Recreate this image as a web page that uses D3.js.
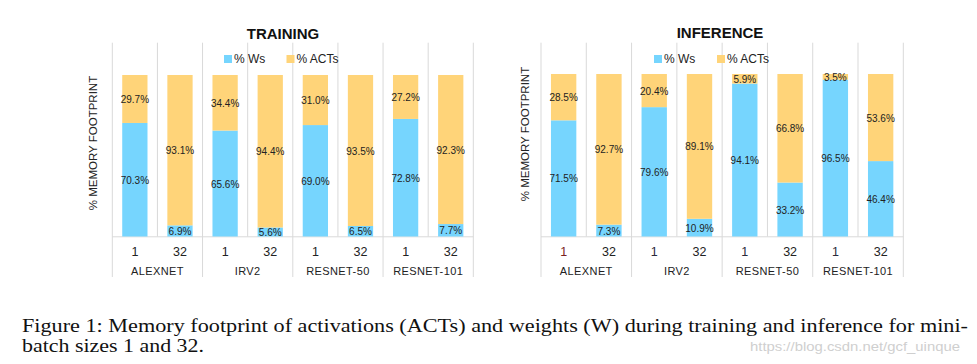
<!DOCTYPE html>
<html><head><meta charset="utf-8">
<script src="https://cdn.jsdelivr.net/npm/d3@7"></script>
<style>body{margin:0;background:#fff}svg{display:block}</style>
</head><body>
<svg id="c" width="977" height="364"></svg>
<script>
const groups = ["ALEXNET", "IRV2", "RESNET-50", "RESNET-101"];
const batches = ["1", "32"];
const trainWs = [70.3, 6.9, 65.6, 5.6, 69.0, 6.5, 72.8, 7.7];
const trainActs = [29.7, 93.1, 34.4, 94.4, 31.0, 93.5, 27.2, 92.3];
const infWs = [71.5, 7.3, 79.6, 10.9, 94.1, 33.2, 96.5, 46.4];
const infActs = [28.5, 92.7, 20.4, 89.1, 5.9, 66.8, 3.5, 53.6];
const seriesNames = ["% Ws", "% ACTs"];
const titles = ["TRAINING", "INFERENCE"];
const yLabel = "% MEMORY FOOTPRINT";
const caption1 = "Figure 1: Memory footprint of activations (ACTs) and weights (W) during training and inference for mini-";
const caption2 = "batch sizes 1 and 32.";
const watermark = "https://blog.csdn.net/gcf_uinque";

const BLUE = "#76D5FE", ORANGE = "#FFD479", GRID = "#d9d9d9";
const FONT = "'Liberation Sans', Arial, sans-serif";
const svg = d3.select("#c");

const panels = [
  {title: titles[0], ws: trainWs, acts: trainActs, x0: 112.3, x1: 473.3, top: 75, bottom: 236.5,
   titleX: 283, titleY: 38.5, ylx: 93, yly: 143, legX: [224, 286.5]},
  {title: titles[1], ws: infWs, acts: infActs, x0: 541, x1: 903.3, top: 74, bottom: 236.5,
   titleX: 720, titleY: 37.5, ylx: 525, yly: 134, legX: [654, 717]}
];

panels.forEach((p, pi) => {
  const keys = [];
  groups.forEach(g => batches.forEach(b => keys.push(g + "|" + b)));
  const cell = d3.scaleBand().domain(keys).range([p.x0, p.x1]).padding(0);
  const x = d3.scaleBand().domain(keys).range([p.x0, p.x1]).paddingInner(0.44).paddingOuter(0.22);
  const gx = d3.scaleBand().domain(groups).range([p.x0, p.x1]).padding(0);
  const y = d3.scaleLinear().domain([0, 100]).range([p.bottom, p.top]);
  const g = svg.append("g");

  const gridTop = 42.7, gridBot = 277;
  const bounds = groups.map(d => gx(d)).concat([p.x1]);
  g.selectAll("line.gs").data(bounds).join("line")
    .attr("x1", d => d).attr("x2", d => d).attr("y1", gridTop).attr("y2", gridBot)
    .attr("stroke", GRID).attr("stroke-width", 1);
  g.selectAll("line.ws").data(groups).join("line")
    .attr("x1", d => gx(d) + gx.bandwidth() / 2).attr("x2", d => gx(d) + gx.bandwidth() / 2)
    .attr("y1", gridTop).attr("y2", y(0))
    .attr("stroke", GRID).attr("stroke-width", 1);
  g.append("line").attr("x1", p.x0).attr("x2", p.x1).attr("y1", y(0) + 0.3).attr("y2", y(0) + 0.3)
    .attr("stroke", GRID).attr("stroke-width", 1);

  const data = keys.map((k, i) => ({k, ws: p.ws[i], acts: p.acts[i]}));
  g.selectAll("rect.w").data(data).join("rect")
    .attr("x", d => x(d.k)).attr("width", x.bandwidth())
    .attr("y", d => y(d.ws)).attr("height", d => y(0) - y(d.ws)).attr("fill", BLUE);
  g.selectAll("rect.a").data(data).join("rect")
    .attr("x", d => x(d.k)).attr("width", x.bandwidth())
    .attr("y", d => y(d.ws + d.acts)).attr("height", d => y(d.ws) - y(d.ws + d.acts)).attr("fill", ORANGE);
  const lab = (sel) => sel.attr("text-anchor", "middle").attr("dominant-baseline", "central")
    .attr("font-family", FONT).attr("font-size", 10).attr("fill", "#222");
  g.selectAll("text.lw").data(data).join("text").call(lab)
    .attr("x", d => x(d.k) + x.bandwidth() / 2).attr("y", d => (y(0) + y(d.ws)) / 2 + 0.5)
    .text(d => d.ws.toFixed(1) + "%");
  g.selectAll("text.la").data(data).join("text").call(lab)
    .attr("x", d => x(d.k) + x.bandwidth() / 2).attr("y", d => (y(d.ws) + y(d.ws + d.acts)) / 2 + 0.5)
    .text(d => d.acts.toFixed(1) + "%");

  g.selectAll("text.tb").data(keys).join("text")
    .attr("x", d => cell(d) + cell.bandwidth() / 2).attr("y", 256)
    .attr("text-anchor", "middle").attr("font-family", FONT).attr("font-size", 12.5)
    .attr("fill", (d, i) => (pi === 1 && i === 0) ? "#7a1f1f" : (pi === 1 && i % 2 === 0 ? "#2a2a3a" : "#222"))
    .text(d => d.split("|")[1]);
  g.selectAll("text.tg").data(groups).join("text")
    .attr("x", d => gx(d) + gx.bandwidth() / 2).attr("y", 275)
    .attr("text-anchor", "middle").attr("font-family", FONT).attr("font-size", 11)
    .attr("letter-spacing", 0.4).attr("fill", "#222")
    .text(d => d);

  g.append("text").attr("x", p.titleX).attr("y", p.titleY).attr("text-anchor", "middle")
    .attr("font-family", FONT).attr("font-weight", "bold").attr("font-size", 15).attr("fill", "#111")
    .text(p.title);
  g.append("text").attr("transform", `translate(${p.ylx + 4},${p.yly}) rotate(-90)`)
    .attr("text-anchor", "middle").attr("font-family", FONT).attr("font-size", 11.5).attr("fill", "#222")
    .text(yLabel);
  const cols = [BLUE, ORANGE];
  seriesNames.forEach((s, i) => {
    g.append("rect").attr("x", p.legX[i]).attr("y", 55).attr("width", 8).attr("height", 8).attr("fill", cols[i]);
    g.append("text").attr("x", p.legX[i] + 10).attr("y", 63).attr("font-family", FONT)
      .attr("font-size", 12).attr("fill", "#222").text(s);
  });
});

svg.append("text").attr("x", 22).attr("y", 332).attr("font-family", "'Liberation Serif', 'Times New Roman', serif")
  .attr("font-size", 19).attr("fill", "#111").attr("textLength", 946).attr("lengthAdjust", "spacingAndGlyphs")
  .text(caption1);
svg.append("text").attr("x", 22).attr("y", 352).attr("font-family", "'Liberation Serif', 'Times New Roman', serif")
  .attr("font-size", 19).attr("fill", "#111").attr("textLength", 182).attr("lengthAdjust", "spacingAndGlyphs")
  .text(caption2);
svg.append("text").attr("x", 750).attr("y", 351).attr("font-family", FONT)
  .attr("font-size", 13).attr("fill", "#cfcfcf").attr("textLength", 210).attr("lengthAdjust", "spacingAndGlyphs")
  .text(watermark);
</script>
</body></html>
